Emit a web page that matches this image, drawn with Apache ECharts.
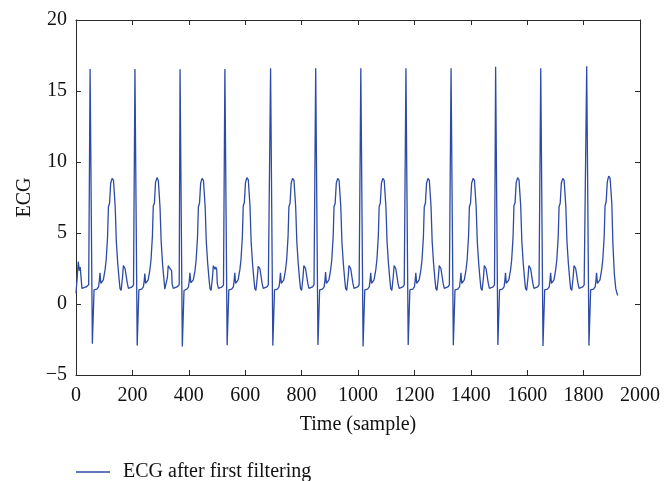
<!DOCTYPE html>
<html>
<head>
<meta charset="utf-8">
<title>ECG after first filtering</title>
<script src="https://cdn.jsdelivr.net/npm/echarts@6/dist/echarts.min.js"></script>
<style>
  html, body { margin: 0; padding: 0; background: #fff; }
  #chart { width: 665px; height: 481px; }
</style>
</head>
<body>
<div id="chart"></div>
<script>
// tick labels
var xTicks = [0, 200, 400, 600, 800, 1000, 1200, 1400, 1600, 1800, 2000];
var yTicks = [-5, 0, 5, 10, 15, 20];

// samples before the first R peak
var startTimes = [0, 4, 8, 12, 15, 17, 21, 26, 36, 45];
var startValues = [0.75, 1.8, 2.98, 2.35, 2.6, 2.5, 1.1, 1.0, 1.2, 1.35];

// R peak sample of every beat, and the sample offsets read inside a beat
var rTimes = [50, 209, 369, 528, 690, 850, 1010, 1170, 1330, 1488, 1648, 1811];
var beatOffsets = [0, 8, 14, 24, 30, 33, 35, 38, 41, 47, 53, 57, 62, 65, 69, 73, 78, 83, 89, 93,
  98, 103, 106, 110, 115, 118, 122, 124, 127, 130, 132, 136, 142, 149, 154, 157];

// values of each beat at those offsets
var beat1 = [16.55, -2.8, 1.0, 1.05, 1.2, 1.7, 2.2, 1.45, 1.45, 1.7, 2.4, 3.1, 4.75, 6.85, 7.1, 8.5, 8.85, 8.7, 6.85, 4.4, 2.85, 1.7, 1.1, 0.95, 1.9, 2.7, 2.75, 2.5, 2.6, 2.4, 1.45, 1.1, 1.1, 1.2, 1.35, 1.35];
var beat2 = [16.55, -2.93, 1.0, 1.05, 1.2, 1.65, 2.15, 1.45, 1.45, 1.7, 2.4, 3.1, 4.8, 6.9, 7.1, 8.55, 8.9, 8.7, 6.8, 4.4, 2.8, 1.7, 1.05, 0.95, 1.85, 2.7, 2.7, 2.5, 2.6, 2.35, 1.4, 1.1, 1.1, 1.2, 1.3, 1.35];
var beat3 = [16.53, -3.0, 0.95, 1.05, 1.2, 1.7, 2.2, 1.5, 1.45, 1.7, 2.35, 3.1, 4.75, 6.85, 7.1, 8.5, 8.85, 8.7, 6.85, 4.4, 2.85, 1.7, 1.1, 0.95, 1.9, 2.7, 2.75, 2.45, 2.6, 2.4, 1.45, 1.1, 1.1, 1.2, 1.35, 1.35];
var beat4 = [16.55, -2.9, 1.0, 1.05, 1.2, 1.7, 2.2, 1.45, 1.45, 1.7, 2.4, 3.1, 4.75, 6.9, 7.15, 8.55, 8.9, 8.75, 6.9, 4.4, 2.85, 1.7, 1.1, 0.95, 1.9, 2.65, 2.75, 2.5, 2.6, 2.4, 1.45, 1.1, 1.1, 1.2, 1.35, 1.35];
var beat5 = [16.6, -2.93, 1.0, 1.05, 1.2, 1.7, 2.2, 1.45, 1.45, 1.7, 2.4, 3.1, 4.75, 6.85, 7.1, 8.5, 8.85, 8.7, 6.85, 4.4, 2.85, 1.7, 1.1, 0.95, 1.9, 2.7, 2.75, 2.5, 2.6, 2.4, 1.45, 1.1, 1.1, 1.2, 1.35, 1.35];
var beat6 = [16.6, -2.88, 1.0, 1.05, 1.2, 1.7, 2.25, 1.45, 1.45, 1.7, 2.4, 3.1, 4.75, 6.85, 7.1, 8.5, 8.85, 8.7, 6.85, 4.35, 2.85, 1.7, 1.1, 0.95, 1.9, 2.7, 2.75, 2.5, 2.6, 2.4, 1.45, 1.1, 1.1, 1.2, 1.35, 1.35];
var beat7 = [16.6, -3.0, 1.0, 1.05, 1.2, 1.7, 2.2, 1.45, 1.45, 1.7, 2.4, 3.1, 4.75, 6.85, 7.1, 8.5, 8.85, 8.7, 6.85, 4.4, 2.85, 1.7, 1.1, 0.95, 1.9, 2.7, 2.75, 2.5, 2.6, 2.4, 1.45, 1.1, 1.1, 1.2, 1.35, 1.35];
var beat8 = [16.6, -2.88, 1.0, 1.05, 1.2, 1.7, 2.2, 1.45, 1.45, 1.7, 2.4, 3.1, 4.75, 6.85, 7.1, 8.5, 8.85, 8.7, 6.85, 4.4, 2.85, 1.7, 1.1, 0.95, 1.9, 2.7, 2.75, 2.5, 2.6, 2.4, 1.45, 1.1, 1.1, 1.2, 1.35, 1.35];
var beat9 = [16.6, -2.9, 1.0, 1.05, 1.2, 1.7, 2.2, 1.45, 1.45, 1.7, 2.4, 3.1, 4.75, 6.85, 7.1, 8.5, 8.85, 8.7, 6.85, 4.4, 2.85, 1.7, 1.1, 0.95, 1.9, 2.7, 2.75, 2.5, 2.6, 2.4, 1.45, 1.1, 1.1, 1.2, 1.35, 1.35];
var beat10 = [16.7, -2.88, 1.0, 1.05, 1.2, 1.7, 2.2, 1.45, 1.45, 1.7, 2.4, 3.1, 4.8, 6.9, 7.15, 8.55, 8.9, 8.75, 6.9, 4.4, 2.85, 1.7, 1.1, 0.95, 1.9, 2.7, 2.75, 2.5, 2.6, 2.4, 1.45, 1.1, 1.1, 1.2, 1.35, 1.35];
var beat11 = [16.6, -2.95, 1.0, 1.05, 1.2, 1.7, 2.2, 1.45, 1.45, 1.7, 2.4, 3.1, 4.75, 6.85, 7.1, 8.5, 8.85, 8.7, 6.85, 4.4, 2.85, 1.7, 1.1, 0.95, 1.9, 2.7, 2.75, 2.5, 2.6, 2.4, 1.45, 1.1, 1.1, 1.2, 1.35, 1.35];
var beat12 = [16.75, -2.93, 1.0, 1.05, 1.2, 1.7, 2.2, 1.45, 1.45, 1.7, 2.4, 3.1, 4.75, 6.9, 7.2, 8.6, 9.0, 8.85, 7.1, 4.2, 2.1, 1.1, 0.85, 0.6];
var beats = [beat1, beat2, beat3, beat4, beat5, beat6, beat7, beat8, beat9, beat10, beat11, beat12];

var seriesName = 'ECG after first filtering';
var lineColor = '#2c4aa6';
var axisColor = '#2a2a2a';
var font = '"Liberation Serif", "DejaVu Serif", serif';

var ecg = [];
for (var i = 0; i < startTimes.length; i++) {
  ecg.push([startTimes[i], startValues[i]]);
}
for (var b = 0; b < beats.length; b++) {
  for (var j = 0; j < beats[b].length; j++) {
    ecg.push([rTimes[b] + beatOffsets[j], beats[b][j]]);
  }
}

function plainNumber(v) {
  return String(v).replace('-', '\u2212');
}

// frame axis (top / right), ticks only
function frameAxis(pos, ticks, step) {
  return {
    type: 'value',
    position: pos,
    min: ticks[0],
    max: ticks[ticks.length - 1],
    interval: step,
    axisLine: { show: true, onZero: false, lineStyle: { color: axisColor, width: 1 } },
    axisTick: { show: true, inside: true, length: 5, lineStyle: { color: axisColor } },
    axisLabel: { show: false },
    splitLine: { show: false }
  };
}

var myChart = echarts.init(document.getElementById('chart'));
var option = {
  animation: false,
  textStyle: { fontFamily: font },
  grid: { left: 76, right: 25, top: 20, bottom: 106, show: false },
  legend: {
    data: [{ name: seriesName, icon: 'rect' }],
    left: 76,
    top: 462,
    padding: 0,
    itemWidth: 34,
    itemHeight: 1.3,
    textStyle: { fontFamily: font, fontSize: 20, color: '#111', padding: [0, 0, 0, 8] }
  },
  xAxis: [
    {
      type: 'value',
      position: 'bottom',
      min: xTicks[0],
      max: xTicks[xTicks.length - 1],
      interval: 200,
      name: 'Time (sample)',
      nameLocation: 'middle',
      nameGap: 40,
      nameTextStyle: { fontFamily: font, fontSize: 20, color: '#111' },
      axisLine: { show: true, onZero: false, lineStyle: { color: axisColor, width: 1 } },
      axisTick: { show: true, inside: true, length: 5, lineStyle: { color: axisColor } },
      axisLabel: { fontFamily: font, fontSize: 20, color: '#111', margin: 11, formatter: plainNumber },
      splitLine: { show: false }
    },
    frameAxis('top', xTicks, 200)
  ],
  yAxis: [
    {
      type: 'value',
      position: 'left',
      min: yTicks[0],
      max: yTicks[yTicks.length - 1],
      interval: 5,
      name: 'ECG',
      nameLocation: 'middle',
      nameGap: 36,
      nameTextStyle: { fontFamily: font, fontSize: 20, color: '#111' },
      axisLine: { show: true, onZero: false, lineStyle: { color: axisColor, width: 1 } },
      axisTick: { show: true, inside: true, length: 5, lineStyle: { color: axisColor } },
      axisLabel: { fontFamily: font, fontSize: 20, color: '#111', margin: 9, formatter: plainNumber },
      splitLine: { show: false }
    },
    frameAxis('right', yTicks, 5)
  ],
  series: [
    {
      name: seriesName,
      type: 'line',
      xAxisIndex: 0,
      yAxisIndex: 0,
      data: ecg,
      showSymbol: false,
      symbol: 'none',
      lineStyle: { color: lineColor, width: 1.3 },
      itemStyle: { color: lineColor }
    }
  ]
};
myChart.setOption(option);
</script>
</body>
</html>
